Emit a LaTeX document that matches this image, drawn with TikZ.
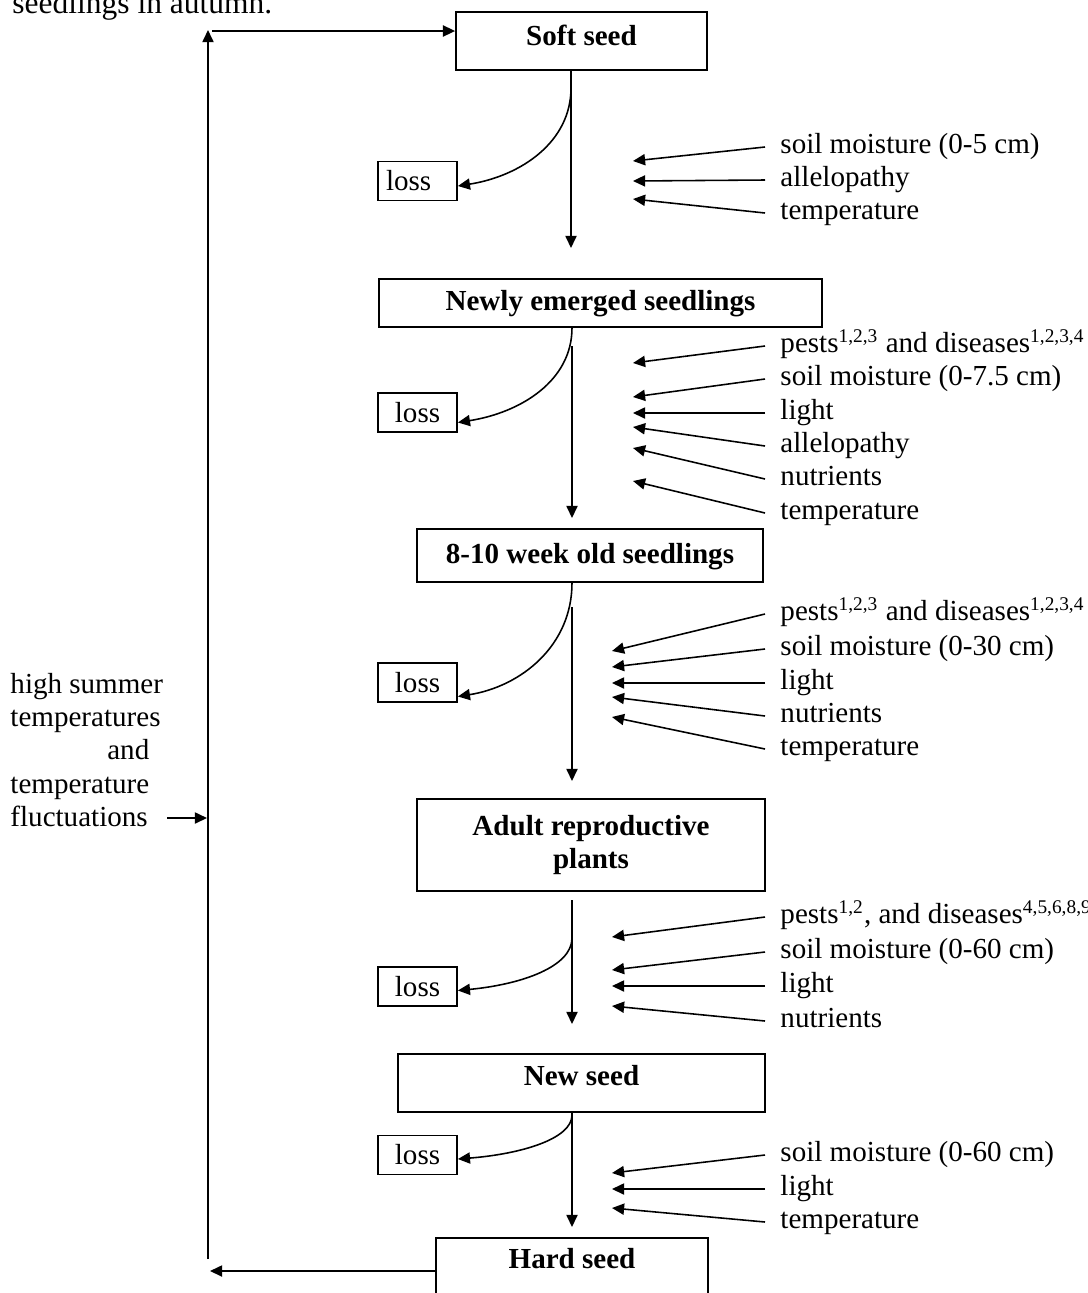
\documentclass[tikz,border=0pt]{standalone}
\usepackage{fontspec}
\setmainfont{Liberation Serif}
\usetikzlibrary{arrows.meta}
\newlength\pxu
\setlength\pxu{0.413pt}

\begin{document}
\begin{tikzpicture}[x=0.413pt, y=-0.413pt, font=\fontsize{12}{13.8}\selectfont,
  arr/.style={line width=0.65pt, -{Triangle[length=5pt,width=4.6pt]}},
  stage/.style={draw, line width=0.75pt, font=\fontsize{12}{13.8}\selectfont\bfseries, inner sep=0pt, anchor=north},
  lossbox/.style={draw, line width=0.75pt, inner sep=0pt, minimum width=79\pxu, minimum height=39\pxu},
  factor/.style={anchor=west, inner xsep=15\pxu, inner ysep=0pt, text height=8.5pt, text depth=3pt}]
\useasboundingbox (0,0) rectangle (1088,1293);

\node[anchor=base west, inner sep=0pt, font=\fontsize{13}{15}\selectfont] (cap) at (12,13) {seedlings in autumn.};

% stages
\node[stage, minimum width=251\pxu, text height=34\pxu, text depth=24\pxu] (soft) at (581.5,11) {Soft seed};
\node[stage, minimum width=443\pxu, text height=32\pxu, text depth=16\pxu] (newly) at (600.5,278) {Newly emerged seedlings};
\node[stage, minimum width=346\pxu, text height=35\pxu, text depth=18\pxu] (weeks) at (590,528) {8-10 week old seedlings};
\node[stage, minimum width=348\pxu, minimum height=92\pxu, align=center] (adult) at (591,798) {Adult reproductive\\plants};
\node[stage, minimum width=367\pxu, text height=32\pxu, text depth=26\pxu] (newseed) at (581.5,1053) {New seed};
\node[stage, minimum width=272\pxu, text height=31\pxu, text depth=60\pxu] (hard) at (572,1237) {Hard seed};

\node[lossbox, text width=63\pxu, align=left] (loss1) at (417.5,181) {loss};
\node[lossbox] (loss2) at (417.5,412.5) {loss};
\node[lossbox] (loss3) at (417.5,682.5) {loss};
\node[lossbox] (loss4) at (417.5,986.5) {loss};
\node[lossbox] (loss5) at (417.5,1155) {loss};

% main line and losses
\coordinate (s1) at (571,248); \coordinate (b1) at (571,88);
\draw[arr] (soft.south -| s1) -- (s1);
\draw[arr] (b1) .. controls +(0,54) and +(63,-10) .. ([yshift=-5\pxu]loss1.east);

\coordinate (a2) at (572,346); \coordinate (s2) at (572,518);
\draw[arr] (a2) -- (s2);
\draw[arr] (newly.south -| s2) .. controls +(0,53) and +(63,-10) .. ([yshift=-10\pxu]loss2.east);

\coordinate (a3) at (572,607); \coordinate (s3) at (572,781);
\draw[arr] (a3) -- (s3);
\draw[arr] (weeks.south -| s3) .. controls +(0,63) and +(63,-10) .. ([yshift=-14\pxu]loss3.east);

\coordinate (a4) at (572,900); \coordinate (s4) at (572,1024); \coordinate (b4) at (572,938);
\draw[arr] (a4) -- (s4);
\draw[arr] (b4) .. controls +(0,29) and +(63,-6) .. ([yshift=-4\pxu]loss4.east);

\coordinate (s5) at (572,1227); \coordinate (b5) at (572,1115);
\draw[arr] (newseed.south -| s5) -- (s5);
\draw[arr] (b5) .. controls +(0,24) and +(63,-5) .. ([yshift=-4\pxu]loss5.east);

% factors
\foreach \lbl/\ly/\ty [count=\i] in {soil moisture (0-5 cm)/147/161, allelopathy/180/181, temperature/213/199}
  {\node[factor] (fa\i) at (765,\ly) {\lbl}; \coordinate (ta\i) at (633,\ty); \draw[arr] (fa\i.west) -- (ta\i);}

\foreach \lbl/\ly/\ty [count=\i] in {{pests\textsuperscript{1,2,3} and diseases\textsuperscript{1,2,3,4}}/346/363, soil moisture (0-7.5 cm)/379/397, light/413/413, allelopathy/446/427, nutrients/479/448, temperature/513/481}
  {\node[factor] (fb\i) at (765,\ly) {\lbl}; \coordinate (tb\i) at (633,\ty); \draw[arr] (fb\i.west) -- (tb\i);}

\foreach \lbl/\ly/\ty [count=\i] in {{pests\textsuperscript{1,2,3} and diseases\textsuperscript{1,2,3,4}}/614/651, soil moisture (0-30 cm)/649/667, light/683/683, nutrients/716/697, temperature/749/717}
  {\node[factor] (fc\i) at (765,\ly) {\lbl}; \coordinate (tc\i) at (612,\ty); \draw[arr] (fc\i.west) -- (tc\i);}

\foreach \lbl/\ly/\ty [count=\i] in {{pests\textsuperscript{1,2}, and diseases\textsuperscript{4,5,6,8,9}}/917/937, soil moisture (0-60 cm)/952/970, light/986/986, nutrients/1021/1006}
  {\node[factor] (fd\i) at (765,\ly) {\lbl}; \coordinate (td\i) at (612,\ty); \draw[arr] (fd\i.west) -- (td\i);}

\foreach \lbl/\ly/\ty [count=\i] in {soil moisture (0-60 cm)/1155/1173, light/1189/1189, temperature/1222/1208}
  {\node[factor] (fe\i) at (765,\ly) {\lbl}; \coordinate (te\i) at (612,\ty); \draw[arr] (fe\i.west) -- (te\i);}

% hard seed back to soft seed
\node[anchor=west, align=left, inner sep=0pt] (heat) at (10,750) {high summer\\temperatures\\\hspace*{40pt}and\\temperature\\fluctuations};
\coordinate (h1) at (167,818); \coordinate (h2) at (207,818);
\draw[arr] (h1) -- (h2);

\coordinate (lb) at (208,1259); \coordinate (lt) at (208,30);
\draw[arr] (lb) -- (lt);
\coordinate (tp) at (212,31);
\draw[arr] (tp) -- (soft.west |- tp);
\coordinate (bt) at (210,1271);
\draw[arr] (hard.west |- bt) -- (bt);

\end{tikzpicture}
\end{document}
